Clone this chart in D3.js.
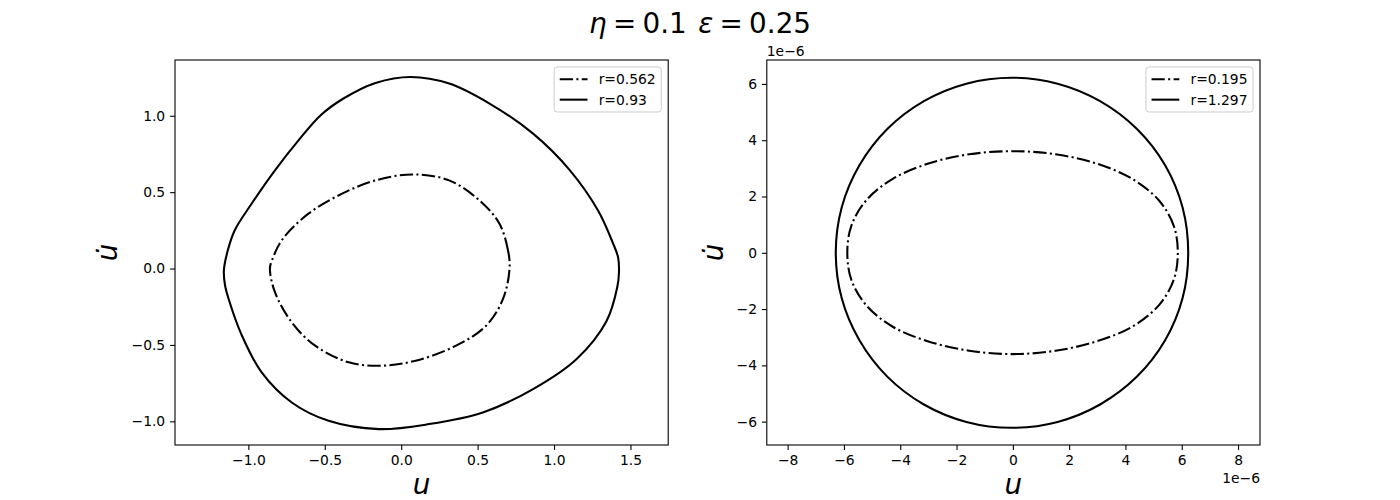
<!DOCTYPE html>
<html><head><meta charset="utf-8">
<script src="https://cdn.jsdelivr.net/npm/d3@7"></script>
<style>
body{margin:0;background:#fff}
svg{display:block}
text{font-family:"DejaVu Sans",sans-serif;fill:#000}
</style>
</head><body>
<svg id="c" width="1400" height="500"></svg>
<script>
// ---- data ----
const titleParts = [["η", true, 0], [" = 0.1 ", false, 0], ["ε", true, 5], [" = 0.25", false, 0]];

// left panel: phase curves (u, u-dot)
const leftInner = [ // r=0.562, dash-dot
  [0.709,0.000],[0.699,0.118],[0.643,0.293],[0.512,0.446],[0.314,0.577],[0.074,0.616],
  [-0.168,0.577],[-0.387,0.490],[-0.607,0.359],[-0.782,0.184],[-0.846,0.052],[-0.859,0.000],
  [-0.826,-0.155],[-0.716,-0.352],[-0.563,-0.505],[-0.343,-0.614],[-0.124,-0.636],
  [0.095,-0.603],[0.359,-0.505],[0.556,-0.374],[0.666,-0.199]
];
const leftOuter = [ // r=0.93, solid
  [1.425,-0.023],[1.419,0.074],[1.384,0.170],[1.288,0.380],[1.104,0.643],[0.863,0.883],
  [0.578,1.080],[0.314,1.211],[0.063,1.254],[-0.168,1.215],[-0.378,1.113],[-0.525,1.005],
  [-0.672,0.839],[-0.826,0.643],[-0.979,0.424],[-1.089,0.251],[-1.134,0.121],
  [-1.160,-0.010],[-1.153,-0.108],[-1.127,-0.206],[-1.043,-0.437],[-0.913,-0.680],
  [-0.716,-0.877],[-0.475,-0.997],[-0.146,-1.051],[0.183,-1.018],[0.534,-0.942],
  [0.863,-0.789],[1.148,-0.592],[1.343,-0.345],[1.414,-0.121]
];
const leftLabels = ["r=0.562", "r=0.93"];
const leftXTicks = [-1.0,-0.5,0.0,0.5,1.0,1.5];
const leftYTicks = [-1.0,-0.5,0.0,0.5,1.0];
const leftXDomain = [-1.48, 1.747];
const leftYDomain = [-1.155, 1.365];

// right panel: values in units of 1e-6
const rightInner = [ // r=0.195, dash-dot
  [5.86,0.00],[5.72,0.95],[5.20,1.85],[4.25,2.62],[2.97,3.17],[1.52,3.50],[0.00,3.61],
  [-1.55,3.50],[-3.00,3.17],[-4.28,2.62],[-5.22,1.85],[-5.74,0.95],[-5.88,0.00],
  [-5.74,-0.95],[-5.22,-1.85],[-4.28,-2.62],[-3.00,-3.15],[-1.55,-3.48],[0.00,-3.60],
  [1.52,-3.48],[2.97,-3.15],[4.25,-2.62],[5.20,-1.85],[5.72,-0.95]
];
const rightOuter = [ // r=1.297, solid
  [6.23,0.00],[6.03,1.61],[5.41,3.11],[4.41,4.40],[3.10,5.39],[1.59,6.01],[-0.04,6.22],
  [-1.65,6.01],[-3.16,5.39],[-4.46,4.40],[-5.45,3.11],[-6.08,1.61],[-6.29,0.00],
  [-6.08,-1.61],[-5.45,-3.11],[-4.46,-4.40],[-3.16,-5.39],[-1.65,-6.01],[-0.04,-6.22],
  [1.59,-6.01],[3.10,-5.39],[4.41,-4.40],[5.41,-3.11],[6.03,-1.61]
];
const rightLabels = ["r=0.195", "r=1.297"];
const rightXTicks = [-8,-6,-4,-2,0,2,4,6,8];
const rightYTicks = [-6,-4,-2,0,2,4,6];
const rightXDomain = [-8.74, 8.78];
const rightYDomain = [-6.83, 6.85];
const offsetLabel = "1e−6";

// ---- drawing ----
const svg = d3.select("#c");
const FS = 13.89, BIG = 27.8;
const dashDot = "13.3,3.33,2.08,3.33";

svg.append("text").attr("x", 700).attr("y", 33).attr("text-anchor", "middle")
  .attr("font-size", BIG).style("white-space", "pre").attr("word-spacing", "-2.5")
  .selectAll("tspan").data(titleParts).join("tspan")
  .attr("dx", d => d[2]).attr("font-style", d => d[1] ? "italic" : "normal").text(d => d[0]);

function panel(left, xDom, yDom, xT, yT, fmt, inner, outer, labels, offset) {
  const top = 60, bottom = 445, w = 493.2, right = left + w;
  const x = d3.scaleLinear().domain(xDom).range([left, right]);
  const y = d3.scaleLinear().domain(yDom).range([bottom, top]);
  const g = svg.append("g");

  const line = d3.line().x(d => x(d[0])).y(d => y(d[1])).curve(d3.curveCatmullRomClosed.alpha(0.5));
  g.append("path").attr("d", line(inner)).attr("fill", "none").attr("stroke", "#000")
    .attr("stroke-width", 2.08).attr("stroke-dasharray", dashDot);
  g.append("path").attr("d", line(outer)).attr("fill", "none").attr("stroke", "#000")
    .attr("stroke-width", 2.08);

  const xa = g.append("g").attr("transform", `translate(0,${bottom})`)
    .call(d3.axisBottom(x).tickValues(xT).tickFormat(fmt).tickSize(4.9).tickPadding(4.9).tickSizeOuter(0));
  const ya = g.append("g").attr("transform", `translate(${left},0)`)
    .call(d3.axisLeft(y).tickValues(yT).tickFormat(fmt).tickSize(4.9).tickPadding(4.9).tickSizeOuter(0));
  [xa, ya].forEach(a => {
    a.select(".domain").remove();
    a.selectAll("line").attr("stroke", "#000").attr("stroke-width", 1.1);
    a.selectAll("text").attr("font-size", FS).attr("font-family", "DejaVu Sans").attr("fill", "#000");
  });

  g.append("rect").attr("x", left).attr("y", top).attr("width", w).attr("height", bottom - top)
    .attr("fill", "none").attr("stroke", "#000").attr("stroke-width", 1.1);

  // axis labels
  g.append("text").attr("x", (left + right) / 2).attr("y", 494).attr("text-anchor", "middle")
    .attr("font-size", BIG).attr("font-style", "italic").text("u");
  const yb = ya.node().getBBox();
  const lx = left + yb.x - 14;
  g.append("text").attr("transform", `translate(${lx},${(top + bottom) / 2}) rotate(-90)`)
    .attr("text-anchor", "middle").attr("font-size", BIG).attr("font-style", "italic").text("u\u0307");

  if (offset) {
    g.append("text").attr("x", left).attr("y", top - 4.2).attr("font-size", FS).text(offset);
    g.append("text").attr("x", right).attr("y", 472).attr("dy", "0.8em").attr("text-anchor", "end")
      .attr("font-size", FS).text(offset);
  }

  // legend
  const pad = 5.56, hl = 27.8, htp = 11.1, rowH = 13.5, sp = 6.9;
  const lg = g.append("g");
  const box = lg.append("rect");
  const texts = lg.selectAll("text.l").data(labels).join("text").attr("class", "l")
    .attr("font-size", FS).text(d => d);
  let mw = 0; texts.each(function () { mw = Math.max(mw, this.getComputedTextLength()); });
  const bw = pad * 2 + hl + htp + mw, bh = pad * 2 + labels.length * rowH + (labels.length - 1) * sp;
  const bx = right - 6.95 - bw, by = top + 6.95;
  box.attr("x", bx).attr("y", by).attr("width", bw).attr("height", bh).attr("rx", 2.8)
    .attr("fill", "#fff").attr("fill-opacity", 0.8).attr("stroke", "#cccccc").attr("stroke-width", 1);
  labels.forEach((lab, i) => {
    const cy = by + pad + rowH / 2 + i * (rowH + sp);
    lg.append("line").attr("x1", bx + pad).attr("x2", bx + pad + hl).attr("y1", cy).attr("y2", cy)
      .attr("stroke", "#000").attr("stroke-width", 2.08)
      .attr("stroke-dasharray", i === 0 ? dashDot : null);
  });
  texts.attr("x", bx + pad + hl + htp)
    .attr("y", (d, i) => by + pad + rowH / 2 + i * (rowH + sp)).attr("dy", "0.36em");
}

panel(175, leftXDomain, leftYDomain, leftXTicks, leftYTicks, d3.format(".1f"),
  leftInner, leftOuter, leftLabels, null);
panel(766.8, rightXDomain, rightYDomain, rightXTicks, rightYTicks, d3.format("d"),
  rightInner, rightOuter, rightLabels, offsetLabel);
</script>
</body></html>
